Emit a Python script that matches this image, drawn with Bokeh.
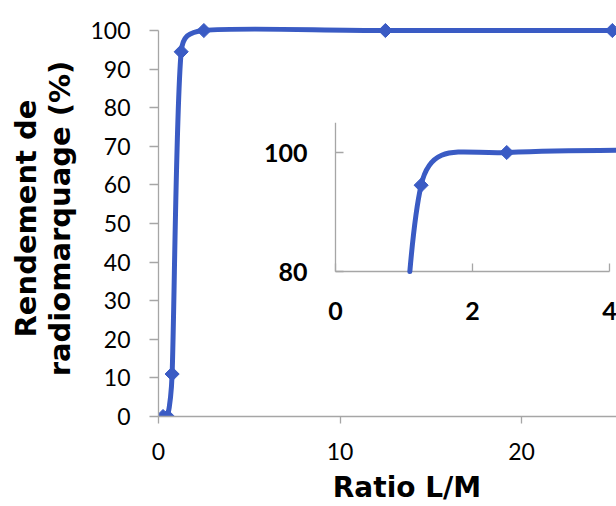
import numpy as np
from bokeh.plotting import figure
from bokeh.models import Range1d, FixedTicker, LinearAxis
from bokeh.core.properties import value
from bokeh.embed import file_html
from bokeh.resources import INLINE

# ---- data ----
ratio = [0.25, 0.5, 0.75, 1.25, 2.5, 12.5, 25]
rendement = [0, 0, 11, 94.5, 100, 100, 100]
x_ticks = [0, 10, 20]
y_ticks = [0, 10, 20, 30, 40, 50, 60, 70, 80, 90, 100]
inset_x_ticks = [0, 2, 4]
inset_y_ticks = [80, 100]
inset_x_lim = (0, 4)
inset_y_lim = (80, 105)
x_title = "Ratio L/M"
y_title = "Rendement de\nradiomarquage (%)"

BLUE = "#3A5BC4"
AXIS = "#A6A6A6"
TICK_FONT = "Lato"
TITLE_FONT = "DejaVu Sans"


def smooth_segments(xs, ys, sx, sy):
    """Excel-like smoothed line: cubic Bezier control points computed in screen space."""
    P = np.column_stack([np.asarray(xs, float) * sx, np.asarray(ys, float) * sy])
    n = len(P)
    segs = []
    for i in range(n - 1):
        p0 = P[i - 1] if i > 0 else P[i]
        p1, p2 = P[i], P[i + 1]
        p3 = P[i + 2] if i + 2 < n else P[i + 1]
        half = np.hypot(*(p2 - p1)) / 2
        t1 = (p2 - p0) / 6
        t2 = (p3 - p1) / 6
        for t in (t1, t2):
            L = np.hypot(*t)
            if L > half and L > 0:
                t *= half / L
        c1, c2 = p1 + t1, p2 - t2
        scale = np.array([sx, sy])
        segs.append(np.array([p1, c1, c2, p2]) / scale)
    return segs


def split(B, t):
    a = B[:-1] * (1 - t) + B[1:] * t
    b = a[:-1] * (1 - t) + a[1:] * t
    c = b[:-1] * (1 - t) + b[1:] * t
    left = np.array([B[0], a[0], b[0], c[0]])
    right = np.array([c[0], b[1], a[2], B[3]])
    return left, right


def clip_above(segs, ymin):
    """Keep only the parts of the Bezier segments with y >= ymin."""
    out = []
    for B in segs:
        y0, y1, y2, y3 = B[:, 1]
        coeffs = [-y0 + 3 * y1 - 3 * y2 + y3, 3 * y0 - 6 * y1 + 3 * y2, -3 * y0 + 3 * y1, y0 - ymin]
        roots = [r.real for r in np.roots(coeffs) if abs(r.imag) < 1e-9 and 0 < r.real < 1]
        knots = [0.0] + sorted(roots) + [1.0]
        for a, b in zip(knots[:-1], knots[1:]):
            tm = (a + b) / 2
            ym = ((1 - tm) ** 3 * y0 + 3 * (1 - tm) ** 2 * tm * y1 + 3 * (1 - tm) * tm ** 2 * y2 + tm ** 3 * y3)
            if ym < ymin:
                continue
            L, _ = split(B, b)
            _, piece = split(L, a / b if b > 0 else 0)
            out.append(piece)
    return out


def bez_cols(segs):
    S = np.array(segs)
    return dict(x0=S[:, 0, 0], y0=S[:, 0, 1], cx0=S[:, 1, 0], cy0=S[:, 1, 1],
                cx1=S[:, 2, 0], cy1=S[:, 2, 1], x1=S[:, 3, 0], y1=S[:, 3, 1])


# ---- main chart ----
W, H = 616, 506
BL, BR, BT, BB = 158, 0, 20, 90
FW, FH = W - BL - BR, H - BT - BB
xr = Range1d(0, 25.23)
yr = Range1d(0, 102.6)
sx = FW / (xr.end - xr.start)
sy = FH / (yr.end - yr.start)

# inset placement inside the frame (pixels from frame left / bottom) and its scales
IX0, IY0 = 177, 145
isx, isy = 68.5, 5.95
ixr = Range1d(-IX0 / isx, (FW - IX0) / isx)
iyr = Range1d(inset_y_lim[0] - IY0 / isy, inset_y_lim[0] + (FH - IY0) / isy)

p = figure(width=W, height=H, x_range=xr, y_range=yr,
           output_backend="svg", toolbar_location=None,
           min_border_left=BL, min_border_right=BR, min_border_top=BT, min_border_bottom=BB)
p.extra_x_ranges = {"ix": ixr}
p.extra_y_ranges = {"iy": iyr}
p.outline_line_color = None
p.grid.visible = False
p.background_fill_color = "white"
p.border_fill_color = "white"

for ax in (p.xaxis[0], p.yaxis[0]):
    ax.axis_line_color = AXIS
    ax.axis_line_width = 1.3
    ax.major_tick_line_color = AXIS
    ax.major_tick_line_width = 1.3
    ax.major_tick_in = 0
    ax.minor_tick_line_color = None
    ax.major_label_text_font = TICK_FONT
    ax.major_label_text_font_size = "23px"
    ax.major_label_text_color = "black"

p.xaxis.ticker = FixedTicker(ticks=x_ticks)
p.xaxis.major_tick_out = 7
p.xaxis.major_label_standoff = 19

p.yaxis.ticker = FixedTicker(ticks=y_ticks)
p.yaxis.bounds = (0, 100)
p.yaxis.major_tick_out = 9
p.yaxis.major_label_standoff = 19
p.yaxis.axis_label = y_title
p.yaxis.axis_label_text_font = TITLE_FONT
p.yaxis.axis_label_text_font_style = "bold"
p.yaxis.axis_label_text_font_size = "29px"
p.yaxis.axis_label_text_line_height = 1.0
p.yaxis.axis_label_text_color = "black"
p.yaxis.axis_label_standoff = 10

# x title on a bare axis below the tick labels (non-breaking spaces nudge it right)
title_axis = LinearAxis(ticker=FixedTicker(ticks=[]),
                        axis_line_color=None, major_tick_line_color=None,
                        minor_tick_line_color=None, axis_label="\u00a0" * 4 + x_title,
                        axis_label_text_font=TITLE_FONT, axis_label_text_font_style="bold",
                        axis_label_text_font_size="28px", axis_label_text_color="black",
                        axis_label_standoff=8)
p.add_layout(title_axis, "below")

# main series
p.bezier(line_color=BLUE, line_width=5, line_cap="round",
         **bez_cols(smooth_segments(ratio, rendement, sx, sy)))
p.scatter(ratio, rendement, marker="square", angle=np.pi / 4, size=10,
          fill_color=BLUE, line_color=BLUE)

# ---- inset (same series, zoomed) ----
ax_kw = dict(line_color=AXIS, line_width=1.3, x_range_name="ix", y_range_name="iy")
p.segment(x0=[inset_x_lim[0]], y0=[inset_y_lim[0]], x1=[inset_x_lim[1]], y1=[inset_y_lim[0]], **ax_kw)
p.segment(x0=[inset_x_lim[0]], y0=[inset_y_lim[0]], x1=[inset_x_lim[0]], y1=[inset_y_lim[1]], **ax_kw)
p.segment(x0=inset_x_ticks, y0=[inset_y_lim[0]] * len(inset_x_ticks),
          x1=inset_x_ticks, y1=[inset_y_lim[0] + 8 / isy] * len(inset_x_ticks), **ax_kw)
p.segment(x0=[inset_x_lim[0]] * len(inset_y_ticks), y0=inset_y_ticks,
          x1=[inset_x_lim[0] + 8 / isx] * len(inset_y_ticks), y1=inset_y_ticks, **ax_kw)

lab_kw = dict(text_font=value(TICK_FONT), text_font_style="bold", text_font_size="25px",
              text_color="black", x_range_name="ix", y_range_name="iy")
p.text(x=inset_x_ticks, y=[inset_y_lim[0]] * len(inset_x_ticks),
       text=[str(t) for t in inset_x_ticks], text_align="center", text_baseline="middle",
       y_offset=39, **lab_kw)
p.text(x=[inset_x_lim[0]] * len(inset_y_ticks), y=inset_y_ticks,
       text=[str(t) for t in inset_y_ticks], text_align="right", text_baseline="middle",
       x_offset=-28, **lab_kw)

inset_segs = clip_above(smooth_segments(ratio, rendement, isx, isy), inset_y_lim[0])
p.bezier(line_color=BLUE, line_width=5, line_cap="round", x_range_name="ix", y_range_name="iy",
         **bez_cols(inset_segs))
inside = [(x, y) for x, y in zip(ratio, rendement)
          if inset_x_lim[0] <= x <= ixr.end and inset_y_lim[0] <= y <= inset_y_lim[1]]
p.scatter([x for x, _ in inside], [y for _, y in inside], marker="square", angle=np.pi / 4,
          size=10, fill_color=BLUE, line_color=BLUE, x_range_name="ix", y_range_name="iy")

open("out.html", "w").write(file_html(p, INLINE))
